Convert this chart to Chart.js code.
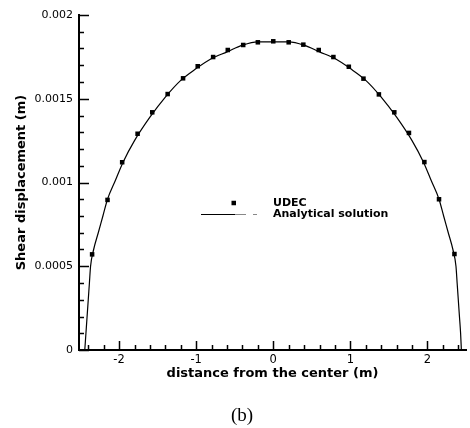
<!DOCTYPE html>
<html>
<head>
<meta charset="utf-8">
<script src="https://cdn.jsdelivr.net/npm/chart.js@4/dist/chart.umd.min.js"></script>
<style>
  html, body { margin: 0; padding: 0; background: #fff; }
  #wrap { width: 470px; height: 428px; position: relative; }
</style>
</head>
<body>
<div id="wrap"><canvas id="c" width="470" height="428"></canvas></div>
<script>
// ---- data ----
const udecX = [-2.35,-2.15,-1.96,-1.76,-1.57,-1.37,-1.17,-0.98,-0.78,-0.59,-0.39,-0.2,0,0.2,0.39,0.59,0.78,0.98,1.17,1.37,1.57,1.76,1.96,2.15,2.35];
const udecY = [0.000571,0.000896,0.001121,0.001291,0.001419,0.001528,0.001622,0.001694,0.001749,0.001791,0.001821,0.001837,0.001843,0.001837,0.001823,0.001791,0.001749,0.001691,0.00162,0.001526,0.001419,0.001296,0.001122,0.0009,0.000573];

const curveX = [-2.445,-2.43,-2.415,-2.4,-2.385,-2.37,-2.33,-2.27,-2.21,-2.15,-2.05,-1.95,-1.8,-1.6,-1.4,-1.2,-1.0,-0.8,-0.6,-0.4,-0.2,0,0.2,0.4,0.6,0.8,1.0,1.2,1.4,1.6,1.8,1.95,2.05,2.15,2.21,2.27,2.33,2.37,2.385,2.4,2.415,2.43,2.44];
const curveY = [0,0.0001,0.0002,0.0003,0.0004,0.0005,0.0006,0.0007,0.0008,0.0009,0.00101,0.00112,0.00125,0.00139,0.00151,0.00161,0.00168,0.00174,0.00178,0.00182,0.00184,0.00184,0.00184,0.00182,0.00178,0.00174,0.00168,0.00161,0.00151,0.00139,0.00125,0.00112,0.00101,0.0009,0.0008,0.0007,0.0006,0.0005,0.0004,0.0003,0.0002,0.0001,0];

const xTickLabels = [-2,-1,0,1,2];
const yTickLabels = [0,0.0005,0.001,0.0015,0.002];
const seriesNames = ['UDEC','Analytical solution'];
const xTitle = 'distance from the center (m)';
const yTitle = 'Shear displacement (m)';
const caption = '(b)';

// ---- build ----
const udecPts = udecX.map((x,i)=>({x, y: udecY[i]}));
const curvePts = curveX.map((x,i)=>({x, y: curveY[i]}));

const SANS = '"DejaVu Sans", sans-serif';

const tickPlugin = {
  id: 'inwardTicks',
  afterDatasetsDraw(chart) {
    const ctx = chart.ctx;
    const xs = chart.scales.x, ys = chart.scales.y;
    const ca = chart.chartArea;
    ctx.save();
    ctx.strokeStyle = '#000';
    ctx.lineWidth = 1.5;
    ctx.beginPath();
    for (let k = -12; k <= 12; k++) {
      const v = k * 0.2;
      if (v < xs.min || v > xs.max) continue;
      const px = Math.round(xs.getPixelForValue(v)) + 0.5;
      const len = (k % 5 === 0) ? 9 : 5;
      ctx.moveTo(px, ca.bottom);
      ctx.lineTo(px, ca.bottom - len);
    }
    for (let k = 0; k <= 20; k++) {
      const v = k * 0.0001;
      const py = Math.round(ys.getPixelForValue(v)) + 0.5;
      const len = (k % 5 === 0) ? 10 : 5;
      ctx.moveTo(ca.left, py);
      ctx.lineTo(ca.left + len, py);
    }
    ctx.stroke();
    ctx.restore();
  }
};

const legendPlugin = {
  id: 'innerLegend',
  afterDraw(chart) {
    const ctx = chart.ctx;
    const ca = chart.chartArea;
    const tx = ca.left + 194;
    const y1 = ca.top + 188;
    const y2 = ca.top + 199;
    ctx.save();
    ctx.fillStyle = '#000';
    ctx.fillRect(tx - 41.5, y1 - 2.25, 4.5, 4.5);
    ctx.strokeStyle = '#000';
    ctx.lineWidth = 1.2;
    ctx.beginPath();
    ctx.moveTo(tx - 72, y2 + 0.5);
    ctx.lineTo(tx - 38, y2 + 0.5);
    ctx.stroke();
    ctx.strokeStyle = '#888';
    ctx.beginPath();
    ctx.moveTo(tx - 38, y2 + 0.5);
    ctx.lineTo(tx - 27, y2 + 0.5);
    ctx.moveTo(tx - 20, y2 + 0.5);
    ctx.lineTo(tx - 16, y2 + 0.5);
    ctx.stroke();
    ctx.font = 'bold 11px ' + SANS;
    ctx.textBaseline = 'middle';
    ctx.textAlign = 'left';
    ctx.fillText(seriesNames[0], tx, y1);
    ctx.fillText(seriesNames[1], tx, y2);
    ctx.restore();
  }
};

const captionPlugin = {
  id: 'caption',
  afterDraw(chart) {
    const ctx = chart.ctx;
    ctx.save();
    ctx.fillStyle = '#000';
    ctx.font = '19px "Liberation Serif", serif';
    ctx.textAlign = 'center';
    ctx.textBaseline = 'middle';
    ctx.fillText(caption, 242, 416);
    ctx.restore();
  }
};

new Chart(document.getElementById('c'), {
  type: 'scatter',
  data: {
    datasets: [
      {
        label: seriesNames[0],
        data: udecPts,
        pointStyle: 'rect',
        pointRadius: 3.2,
        pointBackgroundColor: '#000',
        pointBorderColor: '#000',
        pointBorderWidth: 0,
        showLine: false,
        order: 0
      },
      {
        label: seriesNames[1],
        data: curvePts,
        showLine: true,
        borderColor: '#000',
        borderWidth: 1.2,
        pointRadius: 0,
        cubicInterpolationMode: 'monotone',
        order: 1
      }
    ]
  },
  options: {
    responsive: false,
    animation: false,
    devicePixelRatio: 1,
    layout: { padding: { left: 0, top: 15, right: 3, bottom: 46 } },
    plugins: {
      legend: { display: false },
      tooltip: { enabled: false }
    },
    scales: {
      x: {
        type: 'linear',
        min: -2.52,
        max: 2.5,
        afterBuildTicks(scale) { scale.ticks = xTickLabels.map(v => ({ value: v })); },
        afterFit(scale) { scale.height = 32; },
        grid: { display: false, drawTicks: false },
        border: { display: true, color: '#000', width: 2 },
        ticks: {
          color: '#000',
          padding: 3,
          font: { family: SANS, size: 11.5 },
          callback: v => String(v)
        },
        title: {
          display: true,
          text: xTitle,
          color: '#000',
          padding: { top: 0, bottom: 1 },
          font: { family: SANS, size: 13, weight: 'bold' }
        }
      },
      y: {
        type: 'linear',
        min: 0,
        max: 0.002,
        afterBuildTicks(scale) { scale.ticks = yTickLabels.map(v => ({ value: v })); },
        afterFit(scale) { scale.width = 79; },
        grid: { display: false, drawTicks: false },
        border: { display: true, color: '#000', width: 2 },
        ticks: {
          color: '#000',
          padding: 6,
          font: { family: SANS, size: 11 },
          callback: v => String(Number(v.toFixed(4)))
        },
        title: {
          display: true,
          text: yTitle,
          color: '#000',
          padding: { top: 14, bottom: 0 },
          font: { family: SANS, size: 13, weight: 'bold' }
        }
      }
    }
  },
  plugins: [tickPlugin, legendPlugin, captionPlugin]
});
</script>
</body>
</html>
